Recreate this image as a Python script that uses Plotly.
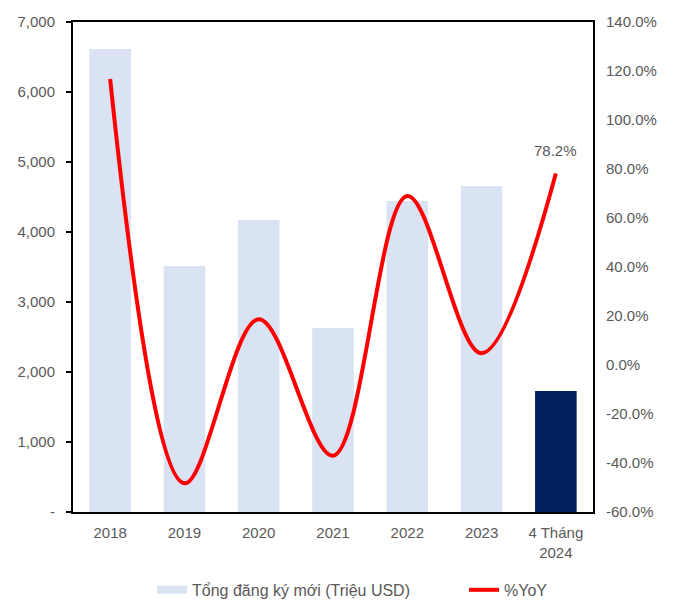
import plotly.graph_objects as go

categories = ["2018", "2019", "2020", "2021", "2022", "2023", "4 Tháng<br>2024"]
registered = [6614, 3514, 4171, 2629, 4443, 4657, 1729]
yoy_pct = [116.7, -48.3, 18.7, -37.0, 69.0, 4.8, 78.2]

left_tickvals = [0, 1000, 2000, 3000, 4000, 5000, 6000, 7000]
left_ticktext = ["-", "1,000", "2,000", "3,000", "4,000", "5,000", "6,000", "7,000"]
right_tickvals = [-60, -40, -20, 0, 20, 40, 60, 80, 100, 120, 140]
right_ticktext = ["-60.0%", "-40.0%", "-20.0%", "0.0%", "20.0%", "40.0%", "60.0%",
                  "80.0%", "100.0%", "120.0%", "140.0%"]

bar_name = "Tổng đăng ký mới (Triệu USD)"
line_name = "%YoY"
bar_colors = ["#DAE3F3"] * 6 + ["#002060"]
last_label = "78.2%"

grey = "#595959"
FAM = "Liberation Sans, Arial, sans-serif"
font = dict(family=FAM, size=15, color=grey)
legend_font = dict(family=FAM, size=16, color=grey)

fig = go.Figure()
fig.add_trace(go.Bar(
    x=categories, y=registered, name=bar_name,
    marker=dict(color=bar_colors, line=dict(width=0)),
    yaxis="y", showlegend=False,
))
# legend-only entry to mimic the wide flat swatch of the bar series
fig.add_trace(go.Scatter(
    x=[None], y=[None], name=bar_name, mode="lines",
    line=dict(color="#DAE3F3", width=8), yaxis="y", showlegend=True,
    legend="legend",
))
fig.add_trace(go.Scatter(
    x=categories, y=yoy_pct, name=line_name, mode="lines",
    line=dict(color="#FF0000", width=4, shape="spline", smoothing=1.0),
    yaxis="y2", cliponaxis=False, legend="legend2",
))

fig.add_annotation(
    x=categories[-1], y=yoy_pct[-1], xref="x", yref="y2",
    text=last_label, showarrow=False, yshift=23,
    font=dict(family=FAM, size=15, color=grey),
)

# page body has an 8px margin, so the figure is drawn 8px smaller and offset
leg_common = dict(orientation="h", xanchor="left", y=-0.159, yanchor="middle",
                  font=legend_font, bgcolor="rgba(0,0,0,0)")
fig.update_layout(
    width=667, height=592,
    margin=dict(l=65, r=82, t=14, b=88, autoexpand=False),
    paper_bgcolor="white", plot_bgcolor="white",
    font=font,
    bargap=0.44,
    showlegend=True,
    legend=dict(x=0.152, **leg_common),
    legend2=dict(x=0.752, **leg_common),
    xaxis=dict(showgrid=False, showline=True, linecolor="black", linewidth=2,
               mirror=True, ticks="", tickfont=font, automargin=False,
               ticklabelstandoff=6),
    yaxis=dict(range=[0, 7000], tickvals=left_tickvals, ticktext=left_ticktext,
               showgrid=False, showline=True, linecolor="black", linewidth=2,
               mirror=True, ticks="outside", ticklen=5, tickcolor="black",
               tickwidth=1.5, tickfont=font, zeroline=False, automargin=False,
               ticklabelstandoff=8),
    yaxis2=dict(range=[-60, 140], tickvals=right_tickvals, ticktext=right_ticktext,
                overlaying="y", side="right", showgrid=False, showline=False,
                ticks="", tickfont=font, zeroline=False, automargin=False,
                ticklabelstandoff=12),
)

fig.write_html("out.html")
